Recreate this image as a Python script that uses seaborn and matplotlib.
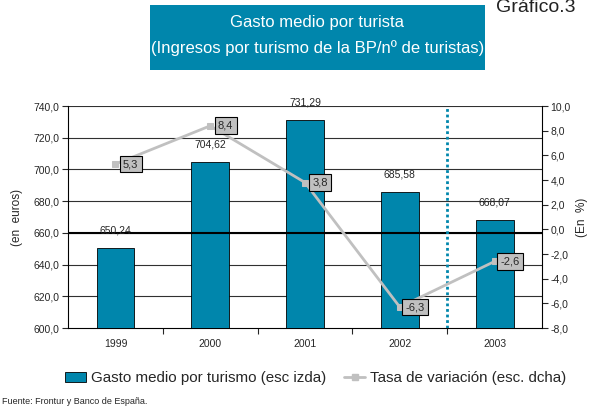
import matplotlib
matplotlib.use("Agg")
import matplotlib.pyplot as plt
import matplotlib.patches as mpatches
from matplotlib.lines import Line2D
from matplotlib.ticker import FuncFormatter, FixedLocator
import seaborn as sns
import numpy as np
import pandas as pd

# Datos
years = ["1999", "2000", "2001", "2002", "2003"]
gasto = [650.24, 704.62, 731.29, 685.58, 668.07]
tasa = [5.3, 8.4, 3.8, -6.3, -2.6]

bar_color = "#0086AC"
line_color = "#C0C0C0"

sns.set_style("white")
plt.rcParams["font.family"] = ["Liberation Sans", "DejaVu Sans"]

fig = plt.figure(figsize=(5.92, 4.08), dpi=100)
ax = fig.add_axes([0.115, 0.196, 0.8005, 0.544])

df = pd.DataFrame({"year": years, "gasto": gasto})
sns.barplot(data=df, x="year", y="gasto", ax=ax, color=bar_color, width=0.4,
            edgecolor="black", linewidth=0.6, saturation=1, zorder=3)

ax.set_ylim(600, 740)
ax.set_xlim(-0.5, 4.5)
ax.set_yticks(np.arange(600, 741, 20))
ax.yaxis.set_major_formatter(FuncFormatter(lambda v, p: f"{v:.1f}".replace(".", ",")))
for yv in np.arange(620, 741, 20):
    ax.axhline(yv, color="#303030", lw=0.8, zorder=1)
ax.axhline(660, color="black", lw=1.5, zorder=4)
ax.set_xlabel("")
ax.set_ylabel("(en  euros)", fontsize=8.5, labelpad=8)
ax.tick_params(axis="y", labelsize=7.5, length=4, width=0.8, direction="out", left=True, pad=2)
ax.tick_params(axis="x", labelsize=7.5, length=0, pad=8)
ax.xaxis.set_minor_locator(FixedLocator([0.5, 1.5, 2.5, 3.5]))
ax.tick_params(axis="x", which="minor", length=4, width=0.8, direction="out", bottom=True)
for s in ["top", "right"]:
    ax.spines[s].set_visible(False)
for s in ["left", "bottom"]:
    ax.spines[s].set_color("black")
    ax.spines[s].set_linewidth(0.8)

# etiquetas de las barras
for i, v in enumerate(gasto):
    ax.annotate(f"{v:.2f}".replace(".", ","), (i, v), xytext=(0, 9),
                textcoords="offset points", ha="center", va="bottom", fontsize=7.5,
                zorder=6)

# eje derecho
ax2 = ax.twinx()
ax2.set_ylim(-8, 10)
ax2.set_yticks(np.arange(-8, 10.1, 2))
ax2.yaxis.set_major_formatter(FuncFormatter(lambda v, p: f"{v:.1f}".replace(".", ",")))
ax2.tick_params(axis="y", labelsize=7.5, length=4, width=0.8, direction="out", right=True, pad=2)
ax2.set_ylabel("(En  %)", fontsize=8.5, labelpad=4)
for s in ["top", "left", "bottom"]:
    ax2.spines[s].set_visible(False)
ax2.spines["right"].set_color("black")
ax2.spines["right"].set_linewidth(0.8)

ax2.axvline(3.5, color=bar_color, lw=2, ls=(0, (1, 1)), zorder=4)

sns.lineplot(x=np.arange(len(years)), y=tasa, ax=ax2, color=line_color, lw=2,
             marker="s", markersize=5, markeredgecolor=line_color, zorder=5)
for i, v in enumerate(tasa):
    ax2.annotate(f"{v:.1f}".replace(".", ","), (i, v), xytext=(11, 0),
                 textcoords="offset points", ha="center", va="center", fontsize=8,
                 bbox=dict(boxstyle="square,pad=0.3", fc="#C0C0C0", ec="black", lw=0.8),
                 zorder=7)

# título en recuadro
fig.patches.append(mpatches.Rectangle((0.253, 0.828), 0.566, 0.160, transform=fig.transFigure,
                                      facecolor=bar_color, edgecolor="none"))
fig.text(0.536, 0.945, "Gasto medio por turista", ha="center", va="center",
         color="white", fontsize=12)
fig.text(0.536, 0.882, "(Ingresos por turismo de la BP/nº de turistas)", ha="center",
         va="center", color="white", fontsize=12)
fig.text(0.838, 0.970, "Gráfico.3", ha="left", va="baseline", fontsize=14, color="#222222")

# leyenda
handles = [mpatches.Patch(facecolor=bar_color, edgecolor="black", lw=0.6),
           Line2D([0], [0], color=line_color, lw=2, marker="s", markersize=4)]
labels = ["Gasto medio por turismo (esc izda)", "Tasa de variación (esc. dcha)"]
fig.legend(handles, labels, loc="center", bbox_to_anchor=(0.533, 0.073), ncol=2,
           frameon=False, fontsize=10.9, handlelength=1.4, handletextpad=0.3,
           columnspacing=1.2)

fig.text(0.003, 0.017, "Fuente: Frontur y Banco de España.", fontsize=6.5, ha="left",
         va="center")

plt.savefig("out.png", dpi=100)
plt.close()
